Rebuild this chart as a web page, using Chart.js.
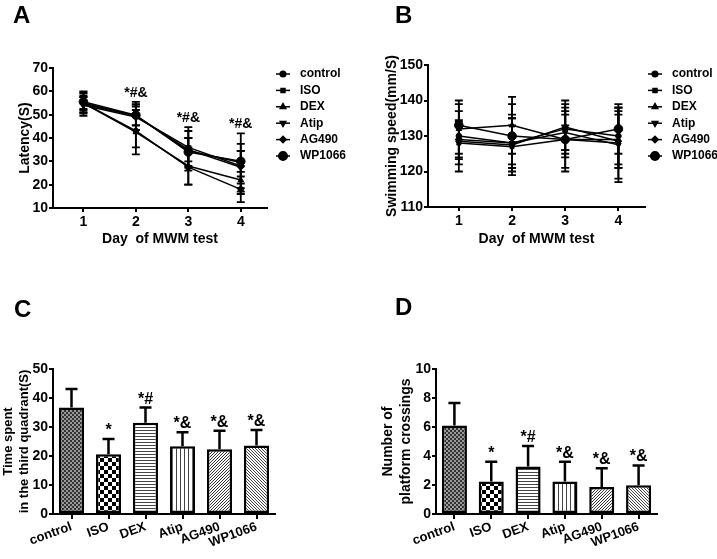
<!DOCTYPE html>
<html>
  <head>
    <title>MWM test</title>
    <meta charset="utf-8" />
    <style>
      body { margin: 0; background: #fff; }
      #figure { position: relative; width: 717px; height: 559px; }
      canvas { position: absolute; }
    </style>
  </head>
  <body>
    <div id="figure">
      <canvas id="chart-a" width="358" height="262" style="left:0;top:0"></canvas>
      <canvas id="chart-b" width="359" height="262" style="left:358px;top:0"></canvas>
      <canvas id="chart-c" width="358" height="297" style="left:0;top:262px"></canvas>
      <canvas id="chart-d" width="359" height="297" style="left:358px;top:262px"></canvas>
    </div>

    <script src="https://cdn.jsdelivr.net/npm/chart.js"></script>
    <script>
      // groups and days
      var groups = ["control", "ISO", "DEX", "Atip", "AG490", "WP1066"];
      var days = [1, 2, 3, 4];

      // A: escape latency (s), one row per group, columns = day 1..4
      var latencyMean = [
        [55, 43, 27.5, 18],
        [54.5, 49.5, 34.5, 29.5],
        [55, 42.5, 28, 22],
        [54, 49, 36, 28],
        [55, 49.5, 35, 27.5],
        [55.5, 49.8, 34, 30],
      ];
      var latencySd = [
        [3, 7, 7.5, 5.5],
        [5, 6, 8.5, 12.5],
        [4, 9.5, 8, 6],
        [3.5, 5.5, 8.7, 9.5],
        [2.5, 4, 5, 7],
        [4.5, 4.5, 6, 4.5],
      ];
      var latencySig = ["", "*#&", "*#&", "*#&"];

      // B: swimming speed (mm/s)
      var speedMean = [
        [130, 128, 132, 130],
        [128, 127, 129, 128],
        [132, 133, 129, 129],
        [129, 128, 131, 127.5],
        [128.5, 127.5, 132.5, 128.5],
        [133, 130, 129, 132],
      ];
      var speedSd = [
        [10, 8, 8, 8],
        [6, 8, 8, 10],
        [7, 8, 9, 8],
        [5.5, 7, 5, 10.5],
        [4.5, 5.5, 6.5, 7.5],
        [4, 9, 4, 7],
      ];

      // C: time in target quadrant (s)
      var timeMean = [36.7, 20.6, 31.5, 23.4, 22.3, 23.6];
      var timeSd = [6.4, 5.3, 5.2, 4.8, 6.4, 5.4];
      var timeSig = ["", "*", "*#", "*&", "*&", "*&"];

      // D: platform crossings
      var crossMean = [6.1, 2.25, 3.27, 2.25, 1.87, 1.98];
      var crossSd = [1.56, 1.35, 1.42, 1.35, 1.29, 1.37];
      var crossSig = ["", "*", "*#", "*&", "*&", "*&"];

      var markerStyles = ["circle", "rect", "triangle", "triangle", "rectRot", "circle"];
      var markerRotation = [0, 0, 0, 180, 0, 0];
      var markerRadius = [2.8, 2.8, 3.2, 3.2, 3.2, 4.3];

      Chart.defaults.font.family = "'Liberation Sans', Arial, sans-serif";
      Chart.defaults.font.weight = "bold";
      Chart.defaults.color = "#000";
      Chart.defaults.animation = false;

      // panel letter
      var panelLetter = {
        id: "panelLetter",
        afterDraw: function (chart, args, o) {
          var ctx = chart.ctx;
          ctx.save();
          ctx.font = "bold 24px 'Liberation Sans', Arial";
          ctx.fillStyle = "#000";
          ctx.textBaseline = "alphabetic";
          ctx.fillText(o.text, o.x, o.y);
          ctx.restore();
        },
      };

      // legend with a short line and the marker in the middle
      var lineLegend = {
        id: "lineLegend",
        afterDraw: function (chart, args, o) {
          if (!o.x) return;
          var ctx = chart.ctx;
          ctx.save();
          chart.data.datasets.forEach(function (ds, i) {
            var y = o.y + i * 16.4;
            ctx.strokeStyle = "#000";
            ctx.fillStyle = "#000";
            ctx.lineWidth = 1.5;
            ctx.beginPath();
            ctx.moveTo(o.x, y);
            ctx.lineTo(o.x + 14, y);
            ctx.stroke();
            Chart.helpers.drawPoint(ctx, {
              pointStyle: ds.pointStyle,
              rotation: ds.pointRotation,
              radius: ds.pointRadius,
              borderWidth: 1,
            }, o.x + 7, y);
            ctx.font = "bold 12px 'Liberation Sans', Arial";
            ctx.textBaseline = "middle";
            ctx.fillText(ds.label, o.x + 24, y);
          });
          ctx.restore();
        },
      };

      // error bars for the line panels
      var lineErrors = {
        id: "lineErrors",
        afterDatasetsDraw: function (chart, args, o) {
          if (!o.mean) return;
          var ctx = chart.ctx;
          var xs = chart.scales.x;
          var ys = chart.scales.y;
          ctx.save();
          ctx.strokeStyle = "#000";
          ctx.lineWidth = 1.8;
          o.mean.forEach(function (row, g) {
            row.forEach(function (m, i) {
              var px = xs.getPixelForValue(days[i]);
              var top = ys.getPixelForValue(m + o.sd[g][i]);
              var bot = ys.getPixelForValue(m - o.sd[g][i]);
              ctx.beginPath();
              ctx.moveTo(px, top);
              ctx.lineTo(px, bot);
              ctx.moveTo(px - 4, top);
              ctx.lineTo(px + 4, top);
              ctx.moveTo(px - 4, bot);
              ctx.lineTo(px + 4, bot);
              ctx.stroke();
            });
          });
          if (o.sig) {
            ctx.font = "bold 14px 'Liberation Sans', Arial";
            ctx.fillStyle = "#000";
            ctx.textAlign = "center";
            ctx.textBaseline = "alphabetic";
            o.sig.forEach(function (s, i) {
              if (!s) return;
              var maxTop = -Infinity;
              o.mean.forEach(function (row, g) {
                maxTop = Math.max(maxTop, row[i] + o.sd[g][i]);
              });
              ctx.fillText(s, xs.getPixelForValue(days[i]), ys.getPixelForValue(maxTop) - 5);
            });
          }
          ctx.restore();
        },
      };

      // error bars (upper only) for the bar panels
      var barErrors = {
        id: "barErrors",
        afterDatasetsDraw: function (chart, args, o) {
          if (!o.sd) return;
          var ctx = chart.ctx;
          var ys = chart.scales.y;
          var meta = chart.getDatasetMeta(0);
          var data = chart.data.datasets[0].data;
          ctx.save();
          ctx.strokeStyle = "#000";
          ctx.lineWidth = 2.5;
          meta.data.forEach(function (bar, i) {
            var top = ys.getPixelForValue(data[i] + o.sd[i]);
            ctx.beginPath();
            ctx.moveTo(bar.x, bar.y);
            ctx.lineTo(bar.x, top);
            ctx.moveTo(bar.x - 6, top);
            ctx.lineTo(bar.x + 6, top);
            ctx.stroke();
            if (o.sig[i]) {
              ctx.font = "bold 16px 'Liberation Sans', Arial";
              ctx.fillStyle = "#000";
              ctx.textAlign = "center";
              ctx.textBaseline = "alphabetic";
              ctx.fillText(o.sig[i], bar.x, top - 4);
            }
          });
          ctx.restore();
        },
      };

      Chart.register(panelLetter, lineLegend, lineErrors, barErrors);

      function makePattern(kind) {
        var c = document.createElement("canvas");
        var n = kind === "checker" ? 8 : kind === "fine" ? 4 : kind === "vert" ? 4 : 3;
        c.width = n;
        c.height = n;
        var p = c.getContext("2d");
        p.fillStyle = "#fff";
        p.fillRect(0, 0, n, n);
        p.fillStyle = "#000";
        if (kind === "fine") {
          p.fillStyle = "#333";
          p.fillRect(0, 0, 2, 2);
          p.fillRect(2, 2, 2, 2);
          p.fillStyle = "#999";
          p.fillRect(2, 0, 2, 2);
          p.fillRect(0, 2, 2, 2);
        } else if (kind === "checker") {
          p.fillRect(0, 0, 4, 4);
          p.fillRect(4, 4, 4, 4);
        } else if (kind === "horiz") {
          p.fillStyle = "#444";
          p.fillRect(0, 0, n, 1);
        } else if (kind === "vert") {
          p.fillStyle = "#444";
          p.fillRect(0, 0, 1, n);
        } else if (kind === "diagUp") {
          p.fillStyle = "#333";
          for (var i = 0; i < n; i++) p.fillRect(n - 1 - i, i, 1, 1);
        } else if (kind === "diagDown") {
          p.fillStyle = "#444";
          for (var j = 0; j < n; j++) p.fillRect(j, j, 1, 1);
        }
        return c.getContext("2d").createPattern(c, "repeat");
      }

      var barFills = ["fine", "checker", "horiz", "vert", "diagUp", "diagDown"].map(makePattern);

      function axisStyle() {
        return {
          border: { color: "#000", width: 2 },
          grid: { drawOnChartArea: false, drawTicks: true, tickLength: 4, color: "#000", lineWidth: 2 },
        };
      }

      function lineChart(id, mean, sd, yMin, yMax, yTitle, dims, letter, legend, sig) {
        var yAxis = axisStyle();
        var xAxis = axisStyle();
        return new Chart(document.getElementById(id), {
          type: "line",
          data: {
            datasets: groups.map(function (name, g) {
              return {
                label: name,
                data: days.map(function (d, i) {
                  return { x: d, y: mean[g][i] };
                }),
                borderColor: "#000",
                backgroundColor: "#000",
                borderWidth: 1.5,
                pointStyle: markerStyles[g],
                pointRotation: markerRotation[g],
                pointRadius: markerRadius[g],
                pointBorderWidth: 1,
              };
            }),
          },
          options: {
            responsive: false,
            layout: { padding: { left: dims.padLeft, top: dims.top, right: dims.padRight, bottom: 0 } },
            plugins: {
              legend: { display: false },
              tooltip: { enabled: false },
              panelLetter: letter,
              lineLegend: legend,
              lineErrors: { mean: mean, sd: sd, sig: sig },
            },
            scales: {
              x: Object.assign(xAxis, {
                type: "linear",
                min: 0.42,
                max: 4.5,
                afterBuildTicks: function (axis) {
                  axis.ticks = days.map(function (v) {
                    return { value: v };
                  });
                },
                afterFit: function (axis) {
                  axis.height = dims.xHeight;
                },
                ticks: { font: { size: 14, weight: "bold" }, padding: 2 },
                title: {
                  display: true,
                  text: "Day  of MWM test",
                  font: { size: 14, weight: "bold" },
                  padding: { top: 0, bottom: dims.xTitlePad },
                },
              }),
              y: Object.assign(yAxis, {
                min: yMin,
                max: yMax,
                ticks: { stepSize: 10, font: { size: 14, weight: "bold" }, padding: 1 },
                afterFit: function (axis) {
                  axis.width = dims.yWidth;
                },
                title: {
                  display: true,
                  text: yTitle,
                  font: { size: 14, weight: "bold" },
                  padding: { top: 4, bottom: 0 },
                },
              }),
            },
          },
        });
      }

      function barChart(id, mean, sd, sig, yMax, step, yTitle, dims, letter) {
        var yAxis = axisStyle();
        var xAxis = axisStyle();
        xAxis.grid.offset = false;
        xAxis.grid.tickLength = 5;
        return new Chart(document.getElementById(id), {
          type: "bar",
          data: {
            labels: groups,
            datasets: [
              {
                data: mean,
                backgroundColor: barFills,
                borderColor: "#000",
                borderWidth: 2.5,
                borderSkipped: false,
                barPercentage: 0.68,
                categoryPercentage: 1,
              },
            ],
          },
          options: {
            responsive: false,
            layout: { padding: { left: dims.padLeft, top: dims.top, right: dims.padRight, bottom: 0 } },
            plugins: {
              legend: { display: false },
              tooltip: { enabled: false },
              panelLetter: letter,
              barErrors: { sd: sd, sig: sig },
            },
            scales: {
              x: Object.assign(xAxis, {
                ticks: {
                  font: { size: 13, weight: "bold" },
                  minRotation: 20,
                  maxRotation: 20,
                  autoSkip: false,
                  padding: 0,
                },
                afterFit: function (axis) {
                  axis.height = dims.xHeight;
                },
              }),
              y: Object.assign(yAxis, {
                min: 0,
                max: yMax,
                ticks: { stepSize: step, font: { size: 14, weight: "bold" }, padding: 1 },
                afterFit: function (axis) {
                  axis.width = dims.yWidth;
                },
                title: {
                  display: true,
                  text: yTitle,
                  font: { size: dims.titleSize, weight: "bold", lineHeight: dims.titleLine },
                  padding: { top: 0, bottom: 0 },
                },
              }),
            },
          },
        });
      }

      lineChart(
        "chart-a", latencyMean, latencySd, 10, 70, "Latency(S)",
        { padLeft: 13, yWidth: 40, top: 68, padRight: 91, xHeight: 54, xTitlePad: 14 },
        { text: "A", x: 13, y: 23 },
        { x: 276, y: 74 },
        latencySig
      );

      lineChart(
        "chart-b", speedMean, speedSd, 110, 150, "Swimming speed(mm/S)",
        { padLeft: 22, yWidth: 48, top: 65, padRight: 72, xHeight: 55, xTitlePad: 14 },
        { text: "B", x: 37, y: 23 },
        { x: 290, y: 74 },
        null
      );

      barChart(
        "chart-c", timeMean, timeSd, timeSig, 50, 10, ["Time spent", "in the third quadrant(S)"],
        { padLeft: 0, yWidth: 53, top: 107, padRight: 83, xHeight: 45, titleSize: 13, titleLine: 1.25 },
        { text: "C", x: 14, y: 55 }
      );

      barChart(
        "chart-d", crossMean, crossSd, crossSig, 10, 2, ["Number of", "platform crossings"],
        { padLeft: 21, yWidth: 57, top: 107, padRight: 60, xHeight: 45, titleSize: 14, titleLine: 1.3 },
        { text: "D", x: 37, y: 53 }
      );
    </script>
  </body>
</html>
